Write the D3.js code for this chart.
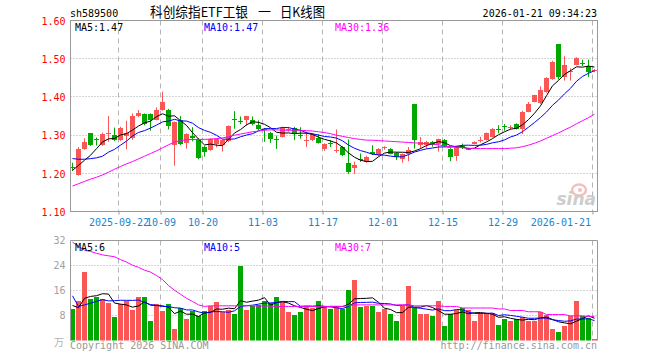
<!DOCTYPE html>
<html>
<head>
<meta charset="utf-8">
<script src="https://cdn.jsdelivr.net/npm/d3@7"></script>
<style>
  body { margin: 0; background: #fff; }
  svg { display: block; }
  text { font-family: "DejaVu Sans Mono", monospace; font-size: 10px; }
</style>
</head>
<body>
<svg id="chart" width="660" height="360"></svg>
<script>
// Trading days shown (2025-09-10 .. 2026-01-21)
const dates = [
  "2025-09-10","2025-09-11","2025-09-12","2025-09-15","2025-09-16","2025-09-17","2025-09-18","2025-09-19",
  "2025-09-22","2025-09-23","2025-09-24","2025-09-25","2025-09-26","2025-09-29","2025-09-30",
  "2025-10-09","2025-10-10","2025-10-13","2025-10-14","2025-10-15","2025-10-16","2025-10-17",
  "2025-10-20","2025-10-21","2025-10-22","2025-10-23","2025-10-24","2025-10-27","2025-10-28","2025-10-29","2025-10-30","2025-10-31",
  "2025-11-03","2025-11-04","2025-11-05","2025-11-06","2025-11-07","2025-11-10","2025-11-11","2025-11-12","2025-11-13","2025-11-14",
  "2025-11-17","2025-11-18","2025-11-19","2025-11-20","2025-11-21","2025-11-24","2025-11-25","2025-11-26","2025-11-27","2025-11-28",
  "2025-12-01","2025-12-02","2025-12-03","2025-12-04","2025-12-05","2025-12-08","2025-12-09","2025-12-10","2025-12-11","2025-12-12",
  "2025-12-15","2025-12-16","2025-12-17","2025-12-18","2025-12-19","2025-12-22","2025-12-23","2025-12-24","2025-12-25","2025-12-26",
  "2025-12-29","2025-12-30","2025-12-31",
  "2026-01-05","2026-01-06","2026-01-07","2026-01-08","2026-01-09","2026-01-12","2026-01-13","2026-01-14","2026-01-15","2026-01-16",
  "2026-01-19","2026-01-20","2026-01-21"
];

const opens = [
  1.219,1.197,1.265,1.306,1.292,1.275,1.303,1.302,1.288,1.299,1.293,1.351,1.356,1.356,1.342,1.367,1.367,1.275,1.342,1.281,
  1.298,1.291,1.271,1.262,1.278,1.275,1.285,1.343,1.339,1.340,1.342,1.327,1.318,1.306,1.292,1.297,1.316,1.321,1.302,1.287,
  1.288,1.295,1.264,1.280,1.260,1.270,1.228,1.216,1.240,1.231,1.257,1.248,1.268,1.265,1.255,1.240,1.251,1.383,1.275,1.275,
  1.284,1.279,1.289,1.265,1.247,1.274,1.265,1.279,1.287,1.289,1.297,1.318,1.324,1.321,1.330,1.318,1.363,1.389,1.385,1.414,
  1.448,1.539,1.453,1.466,1.486,1.491,1.482,1.470
];
const highs = [
  1.229,1.270,1.293,1.307,1.295,1.308,1.351,1.321,1.323,1.339,1.358,1.367,1.358,1.358,1.374,1.415,1.370,1.337,1.351,1.306,
  1.322,1.293,1.273,1.293,1.293,1.290,1.327,1.364,1.350,1.352,1.350,1.340,1.320,1.310,1.300,1.323,1.323,1.323,1.322,1.310,
  1.306,1.304,1.280,1.288,1.316,1.272,1.290,1.232,1.253,1.247,1.275,1.267,1.272,1.267,1.257,1.253,1.270,1.383,1.296,1.286,
  1.286,1.292,1.291,1.267,1.271,1.279,1.268,1.285,1.297,1.308,1.320,1.327,1.330,1.327,1.332,1.365,1.388,1.407,1.429,1.453,
  1.496,1.539,1.508,1.476,1.505,1.499,1.499,1.474
];
const lows = [
  1.208,1.195,1.263,1.273,1.274,1.273,1.284,1.286,1.286,1.264,1.289,1.348,1.327,1.313,1.340,1.365,1.316,1.221,1.275,1.266,
  1.285,1.238,1.245,1.260,1.269,1.258,1.283,1.318,1.330,1.326,1.327,1.314,1.284,1.281,1.265,1.295,1.310,1.288,1.292,1.270,
  1.286,1.279,1.260,1.270,1.255,1.246,1.200,1.200,1.231,1.229,1.249,1.246,1.263,1.251,1.236,1.229,1.233,1.266,1.266,1.266,
  1.271,1.258,1.270,1.233,1.234,1.265,1.262,1.277,1.282,1.287,1.295,1.306,1.313,1.316,1.316,1.304,1.361,1.387,1.383,1.412,
  1.446,1.447,1.444,1.444,1.484,1.482,1.453,1.466
];
const closes = [
  1.217,1.265,1.282,1.275,1.290,1.304,1.306,1.288,1.320,1.308,1.351,1.358,1.330,1.342,1.367,1.389,1.326,1.335,1.279,1.304,
  1.295,1.242,1.258,1.290,1.290,1.288,1.325,1.341,1.335,1.351,1.330,1.316,1.316,1.291,1.291,1.319,1.318,1.306,1.299,1.289,
  1.304,1.281,1.278,1.278,1.262,1.250,1.205,1.222,1.239,1.245,1.252,1.265,1.270,1.253,1.243,1.251,1.262,1.289,1.284,1.284,
  1.275,1.290,1.274,1.245,1.269,1.273,1.266,1.283,1.289,1.306,1.317,1.316,1.322,1.323,1.318,1.363,1.383,1.405,1.420,1.451,
  1.493,1.453,1.484,1.468,1.502,1.489,1.467,1.471
];
// up day = red, down day = green (close vs open)
const upDay = closes.map((c, i) => c >= opens[i]);

// closes before the window, needed for the first MA5 / MA10 points
const prevCloses = [1.285, 1.280, 1.260, 1.270, 1.260, 1.200, 1.215, 1.210, 1.203];
// MA30 of price
const priceMa30 = [
  1.168,1.174,1.180,1.186,1.191,1.197,1.204,1.212,1.219,1.226,1.232,1.239,1.246,1.253,1.260,1.268,1.276,1.283,1.287,1.289,
  1.290,1.290,1.290,1.291,1.292,1.294,1.297,1.301,1.304,1.307,1.310,1.312,1.314,1.315,1.315,1.314,1.314,1.314,1.314,1.313,
  1.312,1.310,1.308,1.305,1.301,1.298,1.295,1.292,1.290,1.288,1.288,1.287,1.286,1.285,1.284,1.283,1.282,1.281,1.280,1.279,
  1.278,1.276,1.273,1.271,1.270,1.268,1.267,1.266,1.266,1.266,1.266,1.266,1.266,1.267,1.268,1.271,1.275,1.280,1.286,1.293,
  1.300,1.307,1.315,1.322,1.331,1.339,1.347,1.356
];

// volume, 万
const volumes = [
  10.1,12.7,21.8,13.3,13.8,13.3,12.1,7.4,11.6,12.5,9.8,14.0,14.0,6.3,11.8,9.4,11.8,3.7,10.3,6.9,
  9.5,8.0,9.5,11.0,12.4,9.1,9.8,8.5,24.0,9.8,10.9,11.4,12.5,11.9,13.8,12.5,9.2,8.2,9.2,10.9,
  10.3,12.7,10.6,10.1,10.9,10.1,16.2,19.4,10.6,11.2,10.9,9.0,10.1,8.5,6.1,10.9,17.6,10.3,8.5,8.5,
  7.9,12.7,4.5,8.4,9.8,10.3,9.8,6.1,8.7,8.7,8.7,5.0,6.9,6.3,6.9,7.5,6.3,6.3,9.2,8.2,
  3.7,2.6,4.5,7.7,12.5,7.7,7.1,0.5
];
const prevVolumes = [46.7, 16.8, 8.0, 7.5, 8.0, 16.2, 6.8, 10.3, 12.6];
const volumeMa30 = [
  31.5,30.1,28.9,28.5,27.9,27.4,27.1,26.8,25.9,25.1,24.1,23.4,22.5,21.9,20.8,19.5,17.6,16.1,14.8,13.5,
  12.5,11.4,10.9,11.1,11.1,11.1,11.1,11.1,11.1,11.1,11.1,11.0,11.0,11.0,10.9,10.9,10.9,10.9,10.9,10.9,
  10.9,10.9,10.9,10.9,10.9,10.9,11.2,11.4,11.4,11.4,11.4,11.4,11.4,11.4,11.4,11.4,11.4,11.1,11.1,11.1,
  11.1,11.1,10.9,10.9,10.9,10.4,10.4,10.4,10.4,10.4,10.4,10.1,10.1,9.6,9.6,9.6,9.2,9.2,9.2,8.3,
  8.3,8.3,8.3,7.9,7.9,7.9,7.7,7.7
];

// axis ticks and labels
const priceTicks = [1.10, 1.20, 1.30, 1.40, 1.50, 1.60];
const volumeTicks = [8, 16, 24, 32];
const dateTicks = ["2025-09-22","2025-10-09","2025-10-20","2025-11-03","2025-11-17","2025-12-01","2025-12-15","2025-12-29","2026-01-21"];
const dateLabels = ["2025-09-22","10-09","10-20","11-03","11-17","12-01","12-15","12-29","2026-01-21"];
const maNames = ["MA5", "MA10", "MA30"];
const priceLegend = ["1.47", "1.47", "1.36"];
const volumeLegend = ["6", "5", "7"];

const maColors = ["#000", "#0000ff", "#ff00ff"];
const red = "#fa5656", green = "#00a800";

function movingAvg(series, prev, n) {
  const all = prev.concat(series);
  return series.map((_, i) => {
    const end = prev.length + i + 1;
    return d3.mean(all.slice(end - n, end));
  });
}

const priceMa = [movingAvg(closes, prevCloses, 5), movingAvg(closes, prevCloses, 10), priceMa30];
const volumeMa = [movingAvg(volumes, prevVolumes, 5), movingAvg(volumes, prevVolumes, 10), volumeMa30];

const svg = d3.select("#chart");
const L = 70.5, R = 597.5;
const mainTop = 20.5, mainBottom = 211.5;
const volTop = 240.5, volBottom = 340.5;

const idx = d3.range(dates.length);
const x = d3.scaleBand().domain(idx).range([69.5, 597.5]);
const cx = i => x(i) + x.bandwidth() / 2;
const xTick = d3.scaleLinear().domain([0, dates.length]).range([70.5, 598.5]);
const yP = d3.scaleLinear().domain([1.1, 1.6]).range([212, 21]);
const yV = d3.scaleLinear().domain([0, 32]).range([340.5, 240.5]);
const tickIdx = dateTicks.map(d => dates.indexOf(d));

// clip paths
const defs = svg.append("defs");
defs.append("clipPath").attr("id", "clipMain").append("rect")
  .attr("x", L).attr("y", mainTop).attr("width", R - L).attr("height", mainBottom - mainTop);
defs.append("clipPath").attr("id", "clipVol").append("rect")
  .attr("x", L).attr("y", volTop).attr("width", R - L).attr("height", volBottom - volTop);

// header
svg.append("text").attr("x", 70).attr("y", 16.5).attr("fill", "#000").text("sh589500");
const titleFont = "'Noto Sans CJK SC', sans-serif";
[["科创综指ETF工银", 150, 98], ["一", 258, 13], ["日K线图", 280, 45]].forEach(([t, tx, w]) => {
  svg.append("text").attr("x", tx).attr("y", 17)
    .style("font-family", titleFont).style("font-size", "13.3px")
    .attr("textLength", w).attr("lengthAdjust", "spacingAndGlyphs")
    .attr("fill", "#000").text(t);
});
svg.append("text").attr("x", 597).attr("y", 16.5).attr("text-anchor", "end")
  .attr("fill", "#000").text("2026-01-21 09:34:23");

// grid: vertical dashed lines at the date ticks
function vGrid(top, bottom) {
  svg.append("g").selectAll("line").data(tickIdx).join("line")
    .attr("x1", d => Math.round(xTick(d) - 0.5) + 0.5).attr("x2", d => Math.round(xTick(d) - 0.5) + 0.5)
    .attr("y1", top).attr("y2", bottom)
    .attr("stroke", "#b4b4b4").attr("stroke-dasharray", "5,4");
}
vGrid(mainTop, mainBottom);
vGrid(volTop, volBottom);

svg.append("g").selectAll("line").data(priceTicks.slice(1, -1)).join("line")
  .attr("x1", L).attr("x2", R)
  .attr("y1", d => Math.round(yP(d)) - 0.5).attr("y2", d => Math.round(yP(d)) - 0.5)
  .attr("stroke", "#aaa").attr("stroke-dasharray", "1,2");
svg.append("g").selectAll("line").data(volumeTicks.slice(0, -1)).join("line")
  .attr("x1", L).attr("x2", R)
  .attr("y1", d => Math.round(yV(d)) - 0.5).attr("y2", d => Math.round(yV(d)) - 0.5)
  .attr("stroke", "#aaa").attr("stroke-dasharray", "1,2");

// watermark
const wm = svg.append("g").attr("opacity", 0.9);
wm.append("ellipse").attr("cx", 579).attr("cy", 190).attr("rx", 7).attr("ry", 5.5)
  .attr("fill", "none").attr("stroke", "#f5b8b8").attr("stroke-width", 2.5);
wm.append("circle").attr("cx", 580).attr("cy", 190).attr("r", 2).attr("fill", "#f5b8b8");
wm.append("text").attr("x", 596).attr("y", 205).attr("text-anchor", "end")
  .style("font-family", "'DejaVu Sans', sans-serif").style("font-size", "17px")
  .style("font-style", "italic").style("font-weight", "bold")
  .attr("fill", "#c8c8c8").text("sina");

// price axis
const axP = svg.append("g").attr("transform", `translate(${L},0)`)
  .call(d3.axisLeft(yP).tickValues(priceTicks).tickFormat(d3.format(".2f")).tickSize(0).tickPadding(5));
axP.select(".domain").remove();
axP.selectAll("text").attr("fill", "#ff0000").style("font-family", "'DejaVu Sans Mono', monospace").style("font-size", "10px");

// volume axis
const axV = svg.append("g").attr("transform", `translate(${L},0)`)
  .call(d3.axisLeft(yV).tickValues(volumeTicks).tickSize(0).tickPadding(5));
axV.select(".domain").remove();
axV.selectAll("text").attr("fill", "#a0a0a0").style("font-family", "'DejaVu Sans Mono', monospace").style("font-size", "10px");
svg.append("text").attr("x", 64).attr("y", 346).attr("text-anchor", "end")
  .style("font-family", "'Noto Sans CJK SC', sans-serif").style("font-size", "10px")
  .attr("fill", "#b0b0b0").text("万");

// date axis
const axD = svg.append("g").attr("transform", `translate(0,${mainBottom})`)
  .call(d3.axisBottom(xTick).tickValues(tickIdx).tickFormat((d, i) => dateLabels[i]).tickSize(3).tickPadding(4));
axD.select(".domain").remove();
axD.selectAll("line").attr("stroke", "#999");
axD.selectAll("text").attr("fill", "#1a86d0").style("font-family", "'DejaVu Sans Mono', monospace").style("font-size", "10px");
axD.selectAll(".tick").filter((d, i) => i === tickIdx.length - 1).select("text")
  .attr("text-anchor", "end").attr("x", -2);

// candles
const candles = svg.append("g").attr("clip-path", "url(#clipMain)");
candles.selectAll("line").data(idx).join("line")
  .attr("x1", cx).attr("x2", cx)
  .attr("y1", i => yP(highs[i])).attr("y2", i => yP(lows[i]))
  .attr("stroke", i => upDay[i] ? red : green);
candles.selectAll("rect").data(idx).join("rect")
  .attr("x", i => x(i) + 0.5).attr("width", 5)
  .attr("y", i => yP(Math.max(opens[i], closes[i])))
  .attr("height", i => Math.max(1, Math.abs(yP(opens[i]) - yP(closes[i]))))
  .attr("fill", i => upDay[i] ? red : green)
  .attr("shape-rendering", "crispEdges");

// price moving averages
const lineP = d3.line().x((d, i) => cx(i)).y(d => yP(d));
svg.append("g").attr("clip-path", "url(#clipMain)").selectAll("path").data(priceMa).join("path")
  .attr("d", lineP).attr("fill", "none").attr("stroke", (d, k) => maColors[k]).attr("stroke-width", 1);

// volume bars
svg.append("g").attr("clip-path", "url(#clipVol)").selectAll("rect").data(idx).join("rect")
  .attr("x", i => x(i) + 0.5).attr("width", 5)
  .attr("y", i => yV(volumes[i]))
  .attr("height", i => yV(0) - yV(volumes[i]))
  .attr("fill", i => upDay[i] ? red : green)
  .attr("shape-rendering", "crispEdges");

const lineV = d3.line().x((d, i) => cx(i)).y(d => yV(d));
svg.append("g").attr("clip-path", "url(#clipVol)").selectAll("path").data(volumeMa).join("path")
  .attr("d", lineV).attr("fill", "none").attr("stroke", (d, k) => maColors[k]).attr("stroke-width", 1);

// frames
svg.append("rect").attr("x", L).attr("y", mainTop).attr("width", R - L).attr("height", mainBottom - mainTop)
  .attr("fill", "none").attr("stroke", "#999");
svg.append("path").attr("d", `M${L},${volBottom}V${volTop}H${R}V${volBottom}`)
  .attr("fill", "none").attr("stroke", "#999");

// legends
const legX = [75, 204, 335];
svg.append("g").selectAll("text").data(maNames).join("text")
  .attr("x", (d, k) => legX[k]).attr("y", 30.5).attr("fill", (d, k) => maColors[k])
  .text((d, k) => `${d}:${priceLegend[k]}`);
svg.append("g").selectAll("text").data(maNames).join("text")
  .attr("x", (d, k) => legX[k]).attr("y", 250.5).attr("fill", (d, k) => maColors[k])
  .text((d, k) => `${d}:${volumeLegend[k]}`);

// footer
svg.append("text").attr("x", 70).attr("y", 349).attr("fill", "#999").text("Copyright 2026 SINA.COM");
svg.append("text").attr("x", 597).attr("y", 349).attr("text-anchor", "end").attr("fill", "#999")
  .text("http://finance.sina.com.cn");
</script>
</body>
</html>
